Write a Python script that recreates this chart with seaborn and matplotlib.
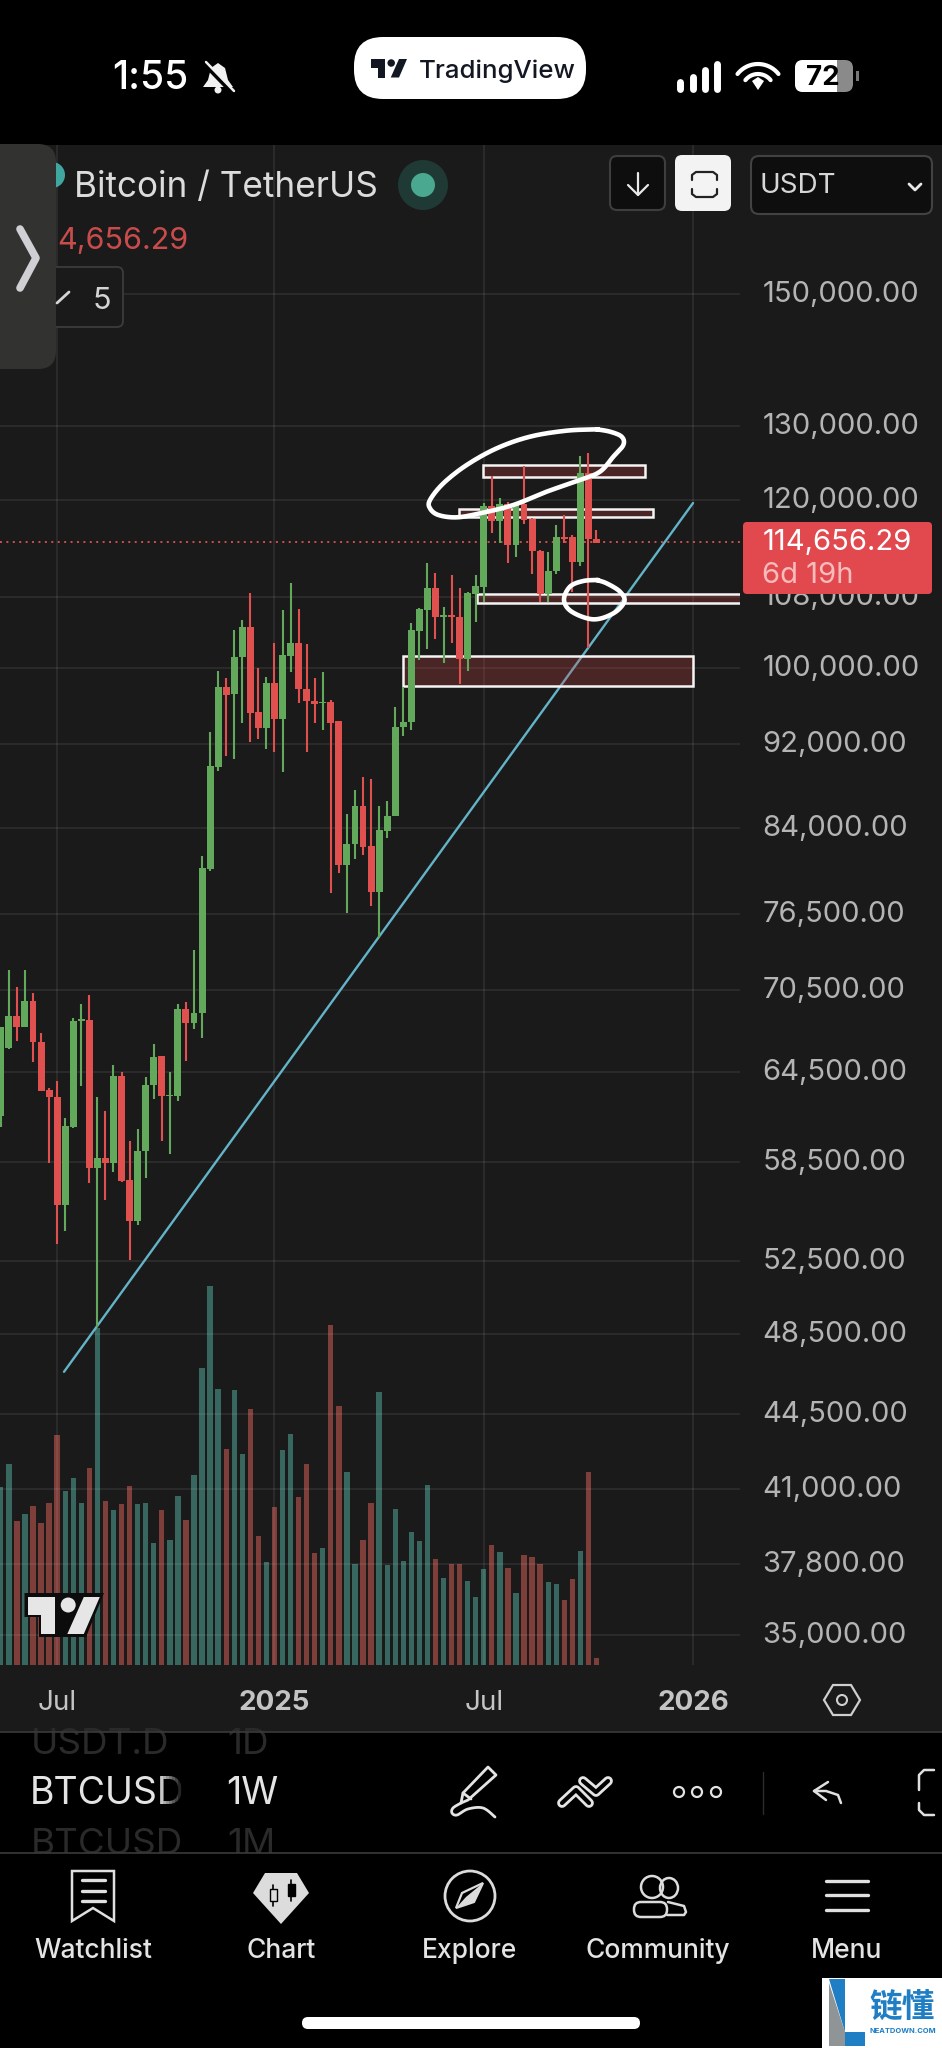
import matplotlib
matplotlib.use("Agg")
import matplotlib.pyplot as plt
import numpy as np
import pandas as pd
import seaborn as sns
from matplotlib.patches import Circle, Ellipse, FancyBboxPatch, Polygon, Rectangle
from matplotlib.transforms import ScaledTranslation

# weekly BTCUSDT candles, week 0 = May 2024
HIGHS = [67680,72020,70680,72020,70220,67240,63340,63850,61360,68340,69410,70070,62750,61820,64970,
         64450,59800,60580,64100,66460,65630,64470,69390,69540,73600,81500,93210,99620,98900,104150,
         105290,108380,99980,99010,102660,106440,109640,106510,102550,98900,99550,96530,94390,85300,87550,
         88760,88570,86080,86550,95840,97940,104980,106630,111970,110760,106750,110560,108970,108500,110560,
         119500,123140,120230,119710,119370,124480,117570,113600,113390,116720,117990,115460,125800,126250,116090]
BODY_TOPS = [67680,68510,68510,69660,69660,66630,63230,62750,60780,68170,68310,68240,58710,58710,64220,
             64220,57340,59160,63570,65560,65600,62910,69010,69010,68760,80450,89860,97940,97940,101110,
             104450,104450,95250,98370,98370,101330,102660,102660,97660,96460,96360,96360,94330,82600,86080,
             86080,82420,83830,85150,93780,94260,104150,106510,109010,109010,105860,105860,105670,108380,109250,
             119150,119150,119370,119370,119370,119370,117440,113520,111080,115250,115250,115250,123540,123540,114920]
BODY_BOTTOMS = [61490,66150,67680,67680,66630,63160,62750,55810,55810,60720,68170,58120,58120,58430,58430,
                57300,54850,54850,59160,63570,62820,62820,62840,68020,68020,68740,80330,89730,97090,97130,
                101110,95150,93650,93680,94560,94560,101260,97660,96390,96080,96190,94190,80710,80710,82600,
                82330,78410,78410,83770,85150,93780,94220,104080,106440,105670,105670,105670,100930,100930,108300,
                109170,117270,117270,114220,114220,117360,113470,108260,108260,111040,114960,112090,112090,114920,114500]
LOWS = [60760,66100,66700,67680,65150,63160,58430,53500,54260,60650,63500,57180,48910,56110,57820,
        57240,52580,54610,57490,62590,59820,58980,62500,65270,67530,66900,80220,89410,90840,90520,
        94190,92230,92530,91500,91240,89310,99550,96190,91240,94120,93440,78270,79980,76640,81210,
        81590,77200,74540,83140,85150,92870,93440,100820,102030,103100,100450,102730,98230,99660,105100,
        107400,115750,114500,111970,112700,116850,110680,107400,107400,110680,114420,108580,111680,102100,114420]
DIRECTIONS = list("UURURRRRUUURURURRUUURUURUUUURUURRURUURRRURRUURRUUUUUUURURRUUURURURRRUURRURR")
VOLUMES = [178,201,144,151,159,142,162,230,174,187,162,197,337,164,155,161,179,161,162,122,155,125,169,145,190,
           297,379,276,216,275,211,256,129,103,158,215,231,168,201,112,117,340,259,193,101,125,162,273,100,156,
           104,133,124,180,106,87,101,101,84,68,96,120,113,97,72,110,108,101,83,81,65,86,114,193,7]

PRICE_TICKS = [150000,130000,120000,108000,100000,92000,84000,76500,70500,64500,58500,52500,48500,44500,41000,37800,35000]
TIME_TICKS = [7, 34, 60, 86]
TIME_LABELS = ["Jul", "2025", "Jul", "2026"]
LAST_PRICE = 114656.29

TREND_WEEKS = [7.85, 86]
TREND_PRICES = [46570, 119550]
# drawn zones: first week, last week, lower price, upper price
ZONES = [(59.9, 80, 122960, 124640),
         (56.9, 81, 117700, 118800),
         (59.2, 93, 107260, 108300),
         (50, 86, 98010, 101250)]

BG = "#1a1a1a"
UP, DOWN = "#62a95c", "#e0504f"
VOL_UP, VOL_DOWN = "#38675f", "#7e3e3a"
TEXT = "#b4b4b4"
W, H = 942, 2048

sns.set_theme(style="dark", rc={"axes.grid": False})
plt.rcParams["font.family"] = ["Inter", "Noto Sans", "DejaVu Sans"]

fig = plt.figure(figsize=(W / 100, H / 100), dpi=100, facecolor="black")

back = fig.add_axes([0, 0, 1, 1], zorder=0)
back.set_xlim(0, W)
back.set_ylim(H, 0)
back.axis("off")
back.add_patch(Rectangle((0, 145), W, 1587, color=BG, lw=0))

chart_rect = [0, 1 - 1665 / H, 740 / W, 1520 / H]
ax_vol = fig.add_axes(chart_rect, zorder=1, facecolor="none")
ax = fig.add_axes(chart_rect, zorder=2, facecolor="none")

weeks = np.arange(len(HIGHS))
candles = pd.DataFrame({"week": weeks, "high": HIGHS, "top": BODY_TOPS, "bottom": BODY_BOTTOMS,
                        "low": LOWS, "direction": DIRECTIONS, "volume": VOLUMES})
candle_colors = candles["direction"].map({"U": UP, "R": DOWN})

# volume histogram at the foot of the pane
sns.barplot(data=candles, x="week", y="volume", hue="direction", hue_order=["U", "R"],
            palette={"U": VOL_UP, "R": VOL_DOWN}, native_scale=True, dodge=False,
            width=0.66, saturation=1, errorbar=None, legend=False, linewidth=0, ax=ax_vol)
ax_vol.set_xlim(-0.1, 91.83)
ax_vol.set_ylim(0, 1520)
ax_vol.set_axis_off()

ax.set_yscale("log")
sns.lineplot(x=TREND_WEEKS, y=TREND_PRICES, color="#63b4c9", lw=1.7, ax=ax, zorder=2, errorbar=None)
ax.axhline(LAST_PRICE, color="#c9514f", lw=1.4, ls=(0, (1, 2.3)), zorder=2)
for first, last, lower, upper in ZONES:
    ax.add_patch(Rectangle((first, lower), last - first, upper - lower,
                           facecolor=(0.80, 0.27, 0.29, 0.27), edgecolor="#f4f4f4", lw=1.8, zorder=3))
ax.vlines(candles["week"], candles["low"], candles["high"], colors=candle_colors, lw=1.5, zorder=4)
ax.bar(candles["week"], candles["top"] - candles["bottom"], bottom=candles["bottom"],
       width=0.86, color=candle_colors, lw=0, zorder=4)

ax.set_xlim(-0.1, 91.83)
ax.set_ylim(33880, 176300)
ax.minorticks_off()
ax.set_yticks(PRICE_TICKS)
ax.set_yticklabels([f"{p:,.2f}" for p in PRICE_TICKS], fontsize=21, color=TEXT)
ax.yaxis.tick_right()
ax.set_xticks(TIME_TICKS)
ax.set_xticklabels(TIME_LABELS, fontsize=20, color="#c4c4c4")
for label in ax.get_xticklabels():
    if label.get_text().isdigit():
        label.set_fontweight("bold")
ax.tick_params(axis="y", length=0, pad=16)
ax.tick_params(axis="x", length=0, pad=18)
# labels sit a touch above their grid line in the app
for label in ax.get_yticklabels():
    label.set_transform(label.get_transform() + ScaledTranslation(0, 0.025, fig.dpi_scale_trans))
ax.grid(True, axis="both", color="white", alpha=0.09, lw=1.1)
ax.set_axisbelow(True)
ax.set_xlabel("")
ax.set_ylabel("")
for spine in ax.spines.values():
    spine.set_visible(False)

# everything below is the phone / app chrome, in screen pixels
ui = fig.add_axes([0, 0, 1, 1], zorder=5, facecolor="none")
ui.set_xlim(0, W)
ui.set_ylim(H, 0)
ui.axis("off")


def text(x, y, s, size=20, color="#e0e0e0", ha="left", weight="normal", zorder=7, **kw):
    # va=center counts the descender, so nudge down to centre the digits
    return ui.text(x, y + size * 0.17, s, fontsize=size, color=color, ha=ha, va="center",
                   fontweight=weight, zorder=zorder, **kw)


def line(xs, ys, color="#e0e0e0", lw=1.8, z=6):
    ui.plot(xs, ys, color=color, lw=lw, solid_capstyle="round", solid_joinstyle="round", zorder=z)


def box(x0, y0, x1, y1, face, edge="none", lw=1.5, r=6, z=5):
    ui.add_patch(FancyBboxPatch((x0 + r, y0 + r), x1 - x0 - 2 * r, y1 - y0 - 2 * r,
                                boxstyle=f"round,pad={r},rounding_size={r}",
                                facecolor=face, edgecolor=edge, lw=lw, zorder=z))


def smooth(points, steps=12):
    # catmull-rom through hand read points
    p = np.array([points[0]] + points + [points[-1]], dtype=float)
    out = []
    for i in range(1, len(p) - 2):
        for t in np.linspace(0, 1, steps, endpoint=False):
            out.append(0.5 * (2 * p[i] + (p[i + 1] - p[i - 1]) * t
                              + (2 * p[i - 1] - 5 * p[i] + 4 * p[i + 1] - p[i + 2]) * t ** 2
                              + (3 * p[i] - p[i - 1] - 3 * p[i + 1] + p[i + 2]) * t ** 3))
    out.append(p[-1])
    return np.array(out)


def tv_logo(dx, dy, s, color, z=7):
    ui.add_patch(Polygon([(dx, dy), (dx + 27.2 * s, dy), (dx + 27.2 * s, dy + 37 * s), (dx + 13 * s, dy + 37 * s),
                          (dx + 13 * s, dy + 18 * s), (dx, dy + 18 * s)], color=color, lw=0, zorder=z))
    ui.add_patch(Circle((dx + 40.4 * s, dy + 8 * s), 7.5 * s, color=color, lw=0, zorder=z))
    ui.add_patch(Polygon([(dx + 56 * s, dy), (dx + 72 * s, dy), (dx + 56 * s, dy + 37 * s), (dx + 39.5 * s, dy + 37 * s)],
                         color=color, lw=0, zorder=z))


# hand drawn circles on the chart
top_loop = [(655, 88), (560, 92), (450, 110), (350, 145), (260, 195), (190, 250), (150, 300), (150, 325), (175, 345),
            (230, 352), (300, 340), (400, 315), (500, 275), (600, 240), (660, 215), (700, 170), (730, 135), (725, 110),
            (690, 95), (650, 88)]
low_loop = [(655, 540), (610, 543), (570, 560), (552, 600), (575, 635), (640, 658), (700, 640), (733, 605), (720, 575),
            (680, 550), (650, 540)]
for loop in (top_loop, low_loop):
    pts = smooth(loop)
    line(pts[:, 0] / 3 + 380, pts[:, 1] / 3 + 400, color="white", lw=3.3, z=6)

# price tag
box(743, 522, 932, 594, "#e1494f", r=4)
text(763, 539, "114,656.29", size=21, color="white")
text(762, 572, "6d 19h", size=21, color="#f6bcbc")

# watermark logo on the pane
ui.add_patch(Polygon([(24.5, 1593), (104, 1593), (86, 1637), (39, 1637), (39, 1617), (24.5, 1617)], color="#0c0c0c", lw=0, zorder=6))
tv_logo(27.8, 1597, 1.0, "#e6e6e6")

# settings hexagon on the time axis
ui.add_patch(Polygon([(824, 1700), (833, 1685), (851, 1685), (860, 1700), (851, 1715), (833, 1715)],
                     facecolor="none", edgecolor="#cfcfcf", lw=1.6, zorder=6))
ui.add_patch(Circle((842, 1700), 5, facecolor="none", edgecolor="#cfcfcf", lw=1.5, zorder=6))

# symbol header
ui.add_patch(Circle((52, 175), 13, color="#3fa7a0", lw=0, zorder=4))
text(74, 183, "Bitcoin / TetherUS", size=25.3, color="#dcdcdc")
ui.add_patch(Circle((423, 185), 25, color="#1f3a34", lw=0, zorder=5))
ui.add_patch(Circle((423, 185), 12, color="#49a88f", lw=0, zorder=6))
text(57, 237, "4,656.29", size=22, color="#c94c4c")
box(40, 267, 123, 327, BG, edge="#3c3c3c", lw=1.3, r=6, z=4)
line([57, 69], [303, 292], color="#d4d4d4", lw=2)
text(102, 297, "5", size=22, color="#d4d4d4", ha="center")

# drawer tab
box(-20, 144, 56, 369, "#323230", r=18, z=5)
line([20, 36, 20], [229, 258, 288], color="#cfcfd4", lw=5.5, z=6)

# top right buttons
box(610, 156, 665, 210, "#0e0e0e", edge="#3e3e3e", lw=1.5, r=7)
line([638, 638], [173, 195], color="#e8e8e8", lw=1.6)
line([628, 638, 648], [185, 195, 185], color="#e8e8e8", lw=1.6)
box(675, 155, 731, 211, "#f3f3f3", r=7)
line([692, 692, 696, 713, 717, 717], [180, 175, 172, 172, 175, 180], color="#222222", lw=1.6)
line([692, 692, 696, 713, 717, 717], [189, 194, 197, 197, 194, 189], color="#222222", lw=1.6)
box(751, 156, 932, 214, "#0e0e0e", edge="#424242", lw=1.5, r=8)
text(760, 183, "USDT", size=20, color="#d6d6d6")
line([909, 915, 921], [184, 190, 184], color="#e8e8e8", lw=2)

# status bar
text(112, 74, "1:55", size=28, color="white", weight="medium")
ui.add_patch(Polygon([(218, 63), (225, 68), (228, 80), (233, 87), (203, 87), (208, 80), (211, 68)], color="#f0f0f0", lw=0, zorder=6))
ui.add_patch(Circle((218, 90), 3.5, color="#f0f0f0", lw=0, zorder=6))
line([203, 233], [62, 93], color="black", lw=3.6, z=7)
line([206, 234], [62, 91], color="#f0f0f0", lw=1.8, z=8)
box(354, 37, 586, 99, "white", r=29)
tv_logo(371, 59, 0.5, "#131722")
text(419, 68, "TradingView", size=18.6, color="#131722", weight="medium")
for x, top in zip((680, 693, 705, 717), (80, 75, 68, 62)):
    line([x, x], [top + 2, 89], color="white", lw=5)
for r in (26, 16):
    th = np.radians(np.linspace(218, 322, 20))
    line(758 + r * np.cos(th), 90 + r * np.sin(th), color="white", lw=3)
ui.add_patch(Polygon([(752, 81), (758, 77), (764, 81), (758, 90)], color="white", lw=0, zorder=6))
box(795, 60, 853, 92, "#8a8a8a", r=8)
box(795, 60, 837, 92, "white", r=8, z=6)
ui.add_patch(Rectangle((827, 60), 10, 32, color="white", lw=0, zorder=6))
ui.add_patch(Rectangle((856, 71), 2.5, 10, color="#777777", lw=0, zorder=6))
text(823, 75, "72", size=20, color="black", ha="center", weight="bold")

# toolbar with the scrolling symbol wheel
wheel_clip = Rectangle((0, 1733), W, 120, transform=ui.transData)
for x, y, label in ((31, 1743, "USDT.D"), (227, 1743, "1D"), (31, 1843, "BTCUSD"), (227, 1843, "1M")):
    t = text(x, y - 3, label, size=26.5, color="#2a2a2a", zorder=1)
    t.set_clip_path(wheel_clip)
ui.plot([0, W], [1732, 1732], color="#3a3a3a", lw=1.2, zorder=2)
text(30, 1789, "BTCUSD", size=27, color="#e4e4e4")
for i, xa in enumerate(np.arange(160, 186, 3)):
    ui.add_patch(Rectangle((xa, 1770), 3, 46, color="black", alpha=min(1, 0.12 * (i + 1)), lw=0, zorder=8))
text(226, 1789, "1W", size=27, color="#e4e4e4")
ui.add_patch(Rectangle((0, 1853), W, 195, color="black", lw=0, zorder=1.5))
ui.plot([0, W], [1853, 1853], color="#3a3a3a", lw=1.2, zorder=2)

ui.add_patch(Polygon([(488, 1767), (496, 1775), (468, 1800), (461, 1803), (463, 1793)], facecolor="none",
                     edgecolor="#e4e4e4", lw=2, joinstyle="round", zorder=6))
line([463, 471], [1793, 1799], color="#e4e4e4", lw=2)
pen_tail = smooth([(461, 1803), (453, 1808), (452, 1813), (457, 1815), (468, 1809), (483, 1808), (495, 1817)])
line(pen_tail[:, 0], pen_tail[:, 1], color="#e4e4e4", lw=2)
for xs, ys in (([562, 576, 589], [1803, 1790, 1803]), ([583, 596, 608], [1781, 1792, 1781])):
    line(xs, ys, color="#e4e4e4", lw=7)
    line(xs, ys, color="black", lw=3, z=7)
for x in (679, 697, 716):
    ui.add_patch(Circle((x, 1792), 5, facecolor="none", edgecolor="#e4e4e4", lw=1.6, zorder=6))
ui.plot([763, 763], [1772, 1814], color="#2c2c2c", lw=1)
line([841, 838, 826, 814], [1803, 1795, 1791, 1791])
line([828, 814, 826], [1782, 1791, 1800])
line([934, 924, 919, 919], [1770, 1770, 1775, 1790])
line([919, 919, 924, 934], [1803, 1810, 1815, 1815])

# bottom navigation
for x, label in zip((93, 281, 470, 658, 847), ("Watchlist", "Chart", "Explore", "Community", "Menu")):
    text(x, 1948, label, size=19, color="#e4e4e4", ha="center", weight="medium")
ui.add_patch(Polygon([(72, 1871), (114, 1871), (114, 1921), (93, 1908), (72, 1921)], facecolor="none", edgecolor="#e0e0e0", lw=1.8, zorder=6))
for y in (1880, 1891, 1901):
    line([82, 105], [y, y], color="#e0e0e0", lw=2.4)
ui.add_patch(Polygon([(265, 1873), (297, 1873), (309, 1893), (281, 1924), (253, 1893)], color="#dcdcdc", lw=0, zorder=6))
for x, y0, y1, y2, y3 in ((273, 1885, 1889, 1901, 1906), (291, 1880, 1884, 1896, 1901)):
    line([x, x], [y0, y3], color="black", lw=1.2, z=7)
    ui.add_patch(Rectangle((x - 3.5, y1), 7, y2 - y1, facecolor="#dcdcdc" if x == 273 else "black", edgecolor="black", lw=1, zorder=7))
ui.add_patch(Circle((470, 1896), 25, facecolor="none", edgecolor="#dcdcdc", lw=2, zorder=6))
ui.add_patch(Polygon([(483, 1883), (462, 1893), (456, 1908), (474, 1902)], facecolor="none", edgecolor="#dcdcdc", lw=1.6, zorder=6))
ui.add_patch(Polygon([(483, 1883), (474, 1902), (456, 1908), (466, 1897)], color="#dcdcdc", lw=0, zorder=6))
ui.add_patch(Ellipse((652, 1887), 22, 22, facecolor="none", edgecolor="#dcdcdc", lw=1.8, zorder=6))
ui.add_patch(Ellipse((669, 1888), 18, 20, facecolor="none", edgecolor="#dcdcdc", lw=1.8, zorder=6))
box(634, 1902, 667, 1917, "black", edge="#dcdcdc", lw=1.8, r=7, z=7)
line([668, 684, 686, 684, 667], [1902, 1906, 1912, 1915, 1915], color="#dcdcdc")
for y in (1881, 1895, 1910):
    ui.plot([826, 868], [y, y], color="#e0e0e0", lw=2.4, zorder=6)

# home indicator
box(302, 2017, 640, 2029, "white", r=6)

# site watermark
ui.add_patch(Rectangle((822, 1978), 120, 70, color="white", lw=0, zorder=8))
ui.add_patch(Polygon([(829, 1983), (845, 2032), (845, 2046), (829, 2046)], color="#8f9496", lw=0, zorder=9))
ui.add_patch(Polygon([(829, 1979), (845, 1979), (845, 2032), (865, 2032), (865, 2046), (845, 2046), (845, 2032)],
                     color="#1f7ec4", lw=0, zorder=9))
ui.text(902, 2007, "链懂", fontsize=23.5, color="#1f7ec4", ha="center", va="center", fontweight="bold",
        family=["Noto Sans CJK SC", "DejaVu Sans"], zorder=9)
ui.text(903, 2031, "NEATDOWN.COM", fontsize=5.4, color="#1f7ec4", ha="center", va="center", fontweight="bold", zorder=9)

fig.savefig("out.png", dpi=100, facecolor="black")
